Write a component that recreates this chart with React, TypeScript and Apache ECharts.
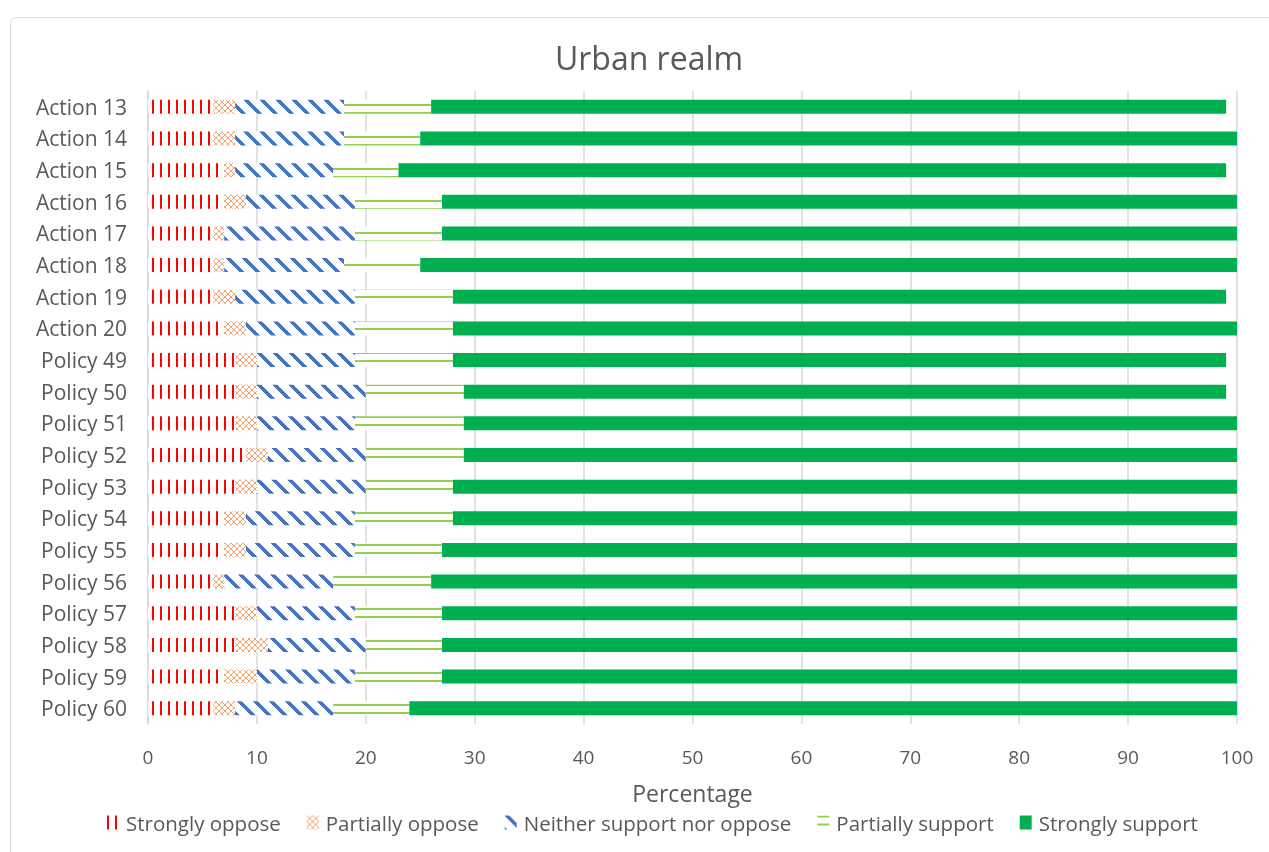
import React, { useEffect, useRef } from "react";
import * as echarts from "echarts";

const categories = [
  "Action 13", "Action 14", "Action 15", "Action 16", "Action 17", "Action 18", "Action 19", "Action 20",
  "Policy 49", "Policy 50", "Policy 51", "Policy 52", "Policy 53", "Policy 54", "Policy 55", "Policy 56",
  "Policy 57", "Policy 58", "Policy 59", "Policy 60",
];
const stronglyOppose = [6, 6, 7, 7, 6, 6, 6, 7, 8, 8, 8, 9, 8, 7, 7, 6, 8, 8, 7, 6];
const partiallyOppose = [2, 2, 1, 2, 1, 1, 2, 2, 2, 2, 2, 2, 2, 2, 2, 1, 2, 3, 3, 2];
const neither = [10, 10, 9, 10, 12, 11, 11, 10, 9, 10, 9, 9, 10, 10, 10, 10, 9, 9, 9, 9];
const partiallySupport = [8, 7, 6, 8, 8, 7, 9, 9, 9, 9, 10, 9, 8, 9, 8, 9, 8, 7, 8, 7];
const stronglySupport = [73, 75, 76, 74, 73, 76, 71, 73, 71, 70, 71, 72, 72, 72, 73, 74, 73, 74, 73, 76];
const seriesNames = [
  "Strongly oppose", "Partially oppose", "Neither support nor oppose", "Partially support", "Strongly support",
];
const xTicks = [0, 10, 20, 30, 40, 50, 60, 70, 80, 90, 100];

const FONT = "Open Sans";
const TXT = "#595959";

function tile(w: number, h: number, fn: (x: number, y: number) => string | null): HTMLCanvasElement {
  const c = document.createElement("canvas");
  c.width = w;
  c.height = h;
  const ctx = c.getContext("2d")!;
  ctx.fillStyle = "#ffffff";
  ctx.fillRect(0, 0, w, h);
  for (let y = 0; y < h; y++) {
    for (let x = 0; x < w; x++) {
      const col = fn(x, y);
      if (col) {
        ctx.fillStyle = col;
        ctx.fillRect(x, y, 1, 1);
      }
    }
  }
  return c;
}

export default function App() {
  const ref = useRef<HTMLDivElement>(null);
  useEffect(() => {
    if (!ref.current) return;
    const chart = echarts.init(ref.current, undefined, { renderer: "svg" });

    const redTile = tile(8, 8, (x) => (x < 2 ? "#FF0000" : null));
    const orangeTile = tile(6, 6, (x, y) =>
      x === y || x === 5 - y ? "#F4A46C" : null
    );
    const blueTile = tile(16, 16, (x, y) => (((x - y) % 16) + 16) % 16 < 5 ? "#4472C4" : null);
    const greenTile = tile(8, 8, (_x, y) => (y < 2 ? "#92D050" : null));

    const fills: any[] = [
      { image: redTile, repeat: "repeat" },
      { image: orangeTile, repeat: "repeat" },
      { image: blueTile, repeat: "repeat" },
      { image: greenTile, repeat: "repeat" },
      "#00B050",
    ];
    const datasets = [stronglyOppose, partiallyOppose, neither, partiallySupport, stronglySupport];

    chart.setOption({
      animation: false,
      title: {
        text: "Urban realm",
        left: 644,
        top: 36,
        textAlign: "center",
        textStyle: { fontFamily: FONT, fontSize: 32, fontWeight: "normal", color: TXT },
      },
      graphic: [
        {
          type: "rect",
          shape: { x: 10.5, y: 17.5, width: 1300, height: 900, r: 6 },
          style: { fill: "none", stroke: "#D9D9D9", lineWidth: 1 },
          silent: true,
        },
      ],
      legend: {
        left: 102,
        top: 807,
        itemGap: 26,
        itemWidth: 12,
        itemHeight: 14,
        icon: "rect",
        textStyle: { fontFamily: FONT, fontSize: 20.5, color: TXT, padding: [0, 0, 0, 2] },
        data: seriesNames,
      },
      grid: { left: 148, right: 32, top: 91, bottom: 128 },
      xAxis: {
        type: "value",
        min: 0,
        max: 100,
        interval: 10,
        name: "Percentage",
        nameLocation: "middle",
        nameGap: 57,
        nameTextStyle: { fontFamily: FONT, fontSize: 23, color: TXT },
        axisLine: { show: false },
        axisTick: { show: false },
        axisLabel: {
          fontFamily: FONT,
          fontSize: 19,
          color: TXT,
          margin: 23,
          formatter: (v: number) => (xTicks.includes(v) ? String(v) : ""),
        },
        splitLine: { show: true, lineStyle: { color: "#D9D9D9", width: 1.5 } },
      },
      yAxis: {
        type: "category",
        inverse: true,
        data: categories,
        axisLine: { show: true, lineStyle: { color: "#D9D9D9", width: 1.5 } },
        axisTick: { show: false },
        axisLabel: { fontFamily: FONT, fontSize: 21, color: TXT, margin: 21 },
      },
      series: seriesNames.map((name, i) => ({
        name,
        type: "bar",
        stack: "total",
        barWidth: 14,
        itemStyle: { color: fills[i] },
        data: datasets[i],
      })),
    });
    return () => chart.dispose();
  }, []);
  return <div ref={ref} style={{ position: "fixed", left: 0, top: 0, width: 1269, height: 852 }} />;
}
